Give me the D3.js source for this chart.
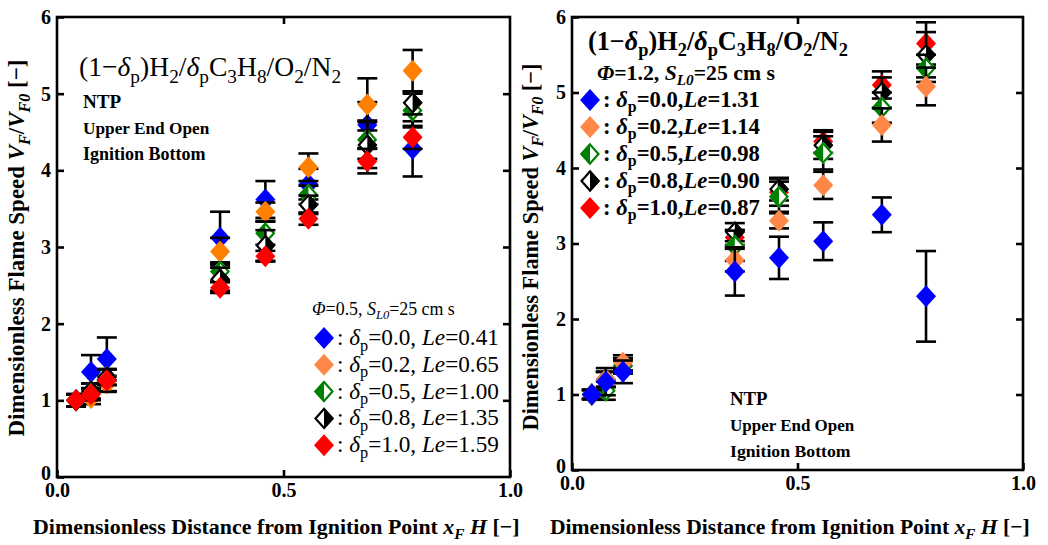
<!DOCTYPE html>
<html>
<head>
<meta charset="utf-8">
<script src="https://cdn.jsdelivr.net/npm/d3@7"></script>
<style>
  body { margin: 0; background: #fff; }
  svg text { font-family: "Liberation Serif", "Times New Roman", "DejaVu Serif", serif; }
</style>
</head>
<body>
<script>
const W = 1048, H = 545;

// left panel: phi = 0.5
const xLeft = [0.042, 0.075, 0.11, 0.36, 0.46, 0.555, 0.685, 0.785];
const leftBlue = [1.0, 1.37, 1.54, 3.12, 3.62, 3.82, 4.59, 4.28];
const leftOrange = [1.0, 1.03, 1.22, 2.94, 3.46, 4.04, 4.86, 5.3];
const leftGreen = [1.0, 1.12, 1.3, 2.68, 3.18, 3.68, 4.4, 4.78];
const leftBlack = [1.0, 1.12, 1.3, 2.58, 3.02, 3.55, 4.33, 4.88];
const leftRed = [1.0, 1.08, 1.26, 2.47, 2.88, 3.37, 4.12, 4.43];
const leftBlueErr = [0.08, 0.22, 0.28, 0.34, 0.24, 0.2, 0.3, 0.36];
const leftOrangeErr = [0.08, 0.08, 0.1, 0.18, 0.12, 0.18, 0.34, 0.27];
const leftGreenErr = [0.08, 0.1, 0.1, 0.12, 0.15, 0.12, 0.25, 0.22];
const leftBlackErr = [0.08, 0.1, 0.1, 0.15, 0.2, 0.12, 0.3, 0.15];
const leftRedErr = [0.08, 0.08, 0.15, 0.07, 0.07, 0.08, 0.16, 0.15];
const deltaLabels = ["0.0", "0.2", "0.5", "0.8", "1.0"];
const leftLe = ["0.41", "0.65", "1.00", "1.35", "1.59"];

// right panel: phi = 1.2
const xRight = [0.044, 0.075, 0.113, 0.361, 0.459, 0.557, 0.687, 0.785];
const rightBlue = [1.0, 1.17, 1.3, 2.63, 2.81, 3.03, 3.38, 2.3];
const rightOrange = [1.0, 1.2, 1.42, 2.78, 3.3, 3.77, 4.57, 5.08];
const rightGreen = [1.0, 1.05, 1.38, 2.97, 3.62, 4.2, 4.8, 5.32];
const rightBlack = [1.0, 1.2, 1.38, 3.15, 3.72, 4.3, 5.0, 5.5];
const rightRed = [1.0, 1.2, 1.38, 3.08, 3.68, 4.35, 5.1, 5.65];
const rightBlueErr = [0.06, 0.18, 0.15, 0.32, 0.28, 0.25, 0.23, 0.6];
const rightOrangeErr = [0.06, 0.1, 0.1, 0.15, 0.1, 0.18, 0.22, 0.25];
const rightGreenErr = [0.06, 0.12, 0.1, 0.2, 0.2, 0.22, 0.2, 0.18];
const rightBlackErr = [0.06, 0.1, 0.1, 0.12, 0.15, 0.18, 0.2, 0.3];
const rightRedErr = [0.06, 0.1, 0.1, 0.1, 0.18, 0.15, 0.18, 0.28];
const rightLe = ["1.31", "1.14", "0.98", "0.90", "0.87"];

const xTicks = [0, 0.5, 1];
const yTicks = [0, 1, 2, 3, 4, 5, 6];
const notes = ["NTP", "Upper End Open", "Ignition Bottom"];

const BLUE = "#0000ff", ORANGE = "#ff8000", CORAL = "#ff8848",
  GREEN = "#008000", RED = "#ff0000";

const svg = d3.select("body").append("svg").attr("width", W).attr("height", H);

// rich text from segments {t, sub, it}
const rich = (sel, segs, size) => {
  let shifted = false;
  segs.forEach((s) => {
    const ts = sel.append("tspan").text(s.t);
    if (s.it) ts.attr("font-style", "italic");
    if (s.sub) {
      ts.attr("font-size", size * 0.7);
      if (!shifted) ts.attr("dy", size * 0.24);
      shifted = true;
    } else if (shifted) {
      ts.attr("dy", -size * 0.24);
      shifted = false;
    }
  });
  return sel;
};

// draw a text, then redraw it at the size that gives the wanted width
const fitText = (parent, attrs, segs, width, base) => {
  const draw = (size) => {
    const t = parent.append("text").attr("font-size", size);
    Object.entries(attrs).forEach(([k, v]) => t.attr(k, v));
    return rich(t, segs, size);
  };
  const probe = draw(base);
  const w = probe.node().getBBox().width;
  probe.remove();
  return draw(base * width / w);
};

const formula = [
  { t: "(1−" }, { t: "δ", it: true }, { t: "p", sub: true }, { t: ")H" },
  { t: "2", sub: true }, { t: "/" }, { t: "δ", it: true }, { t: "p", sub: true },
  { t: "C" }, { t: "3", sub: true }, { t: "H" }, { t: "8", sub: true },
  { t: "/O" }, { t: "2", sub: true }, { t: "/N" }, { t: "2", sub: true },
];

const diamond = "M0,-11L10,0L0,11L-10,0Z";
const leftHalf = "M0,-11L-10,0L0,11Z";
const rightHalf = "M0,-11L10,0L0,11Z";

const drawMarker = (g, kind, color) => {
  if (kind === "full") {
    g.append("path").attr("d", diamond).attr("fill", color);
  } else {
    g.append("path").attr("d", diamond).attr("fill", "#fff");
    g.append("path").attr("d", kind === "left" ? leftHalf : rightHalf).attr("fill", color);
    g.append("path").attr("d", "M0,-9.5L8.5,0L0,9.5L-8.5,0Z")
      .attr("fill", "none").attr("stroke", color).attr("stroke-width", 2.2);
  }
};

const panel = (opt) => {
  const x = d3.scaleLinear().domain([0, 1]).range(opt.xr);
  const y = d3.scaleLinear().domain([0, 6]).range(opt.yr);
  const g = svg.append("g");

  // data: error bars and markers per series
  opt.series.forEach((s) => {
    const sg = g.append("g");
    const pts = opt.xs.map((xv, i) => ({ x: xv, y: s.vals[i], e: s.err[i] }));
    const eb = sg.append("g").attr("stroke", "#000").attr("stroke-width", 2.6);
    pts.forEach((p) => {
      const cx = x(p.x);
      eb.append("line").attr("x1", cx).attr("x2", cx)
        .attr("y1", y(p.y - p.e)).attr("y2", y(p.y + p.e));
      [p.y - p.e, p.y + p.e].forEach((v) => {
        eb.append("line").attr("x1", cx - 10).attr("x2", cx + 10)
          .attr("y1", y(v)).attr("y2", y(v));
      });
    });
    sg.selectAll(".m").data(pts).join("g")
      .attr("transform", (d) => `translate(${x(d.x)},${y(d.y)})`)
      .each(function () { drawMarker(d3.select(this), s.kind, s.color); });
  });

  // frame and ticks
  g.append("rect").attr("x", opt.xr[0]).attr("y", opt.yr[1])
    .attr("width", opt.xr[1] - opt.xr[0]).attr("height", opt.yr[0] - opt.yr[1])
    .attr("fill", "none").attr("stroke", "#000").attr("stroke-width", 2.6);

  const ax = (axis, tr) => g.append("g").attr("transform", tr).call(axis)
    .attr("font-family", null)
    .call((a) => a.select(".domain").remove())
    .call((a) => a.selectAll("line").attr("stroke-width", 2.6));
  const tickText = (a) => a.selectAll("text").attr("font-size", 20)
    .attr("font-weight", "bold").attr("fill", "#000");

  ax(d3.axisBottom(x).tickValues(xTicks).tickSize(-7).tickPadding(6).tickFormat(d3.format(".1f")),
    `translate(0,${opt.yr[0]})`).call(tickText);
  ax(d3.axisTop(x).tickValues([0.5]).tickSize(-7).tickFormat(""), `translate(0,${opt.yr[1]})`);
  ax(d3.axisLeft(y).tickValues(yTicks).tickSize(-7).tickPadding(6).tickFormat(d3.format("d")),
    `translate(${opt.xr[0]},0)`).call(tickText)
    .selectAll("text").filter((d) => d === 0).attr("dy", "0.1em");
  ax(d3.axisRight(y).tickValues(yTicks.slice(1, 6)).tickSize(-7).tickFormat(""),
    `translate(${opt.xr[1]},0)`);

  // axis titles
  fitText(g, { x: opt.xlab[0], y: opt.xlab[1], "font-weight": "bold" }, [
    { t: "Dimensionless Distance from Ignition Point    " },
    { t: "x", it: true }, { t: "F", sub: true, it: true }, { t: " H", it: true }, { t: " [−]" },
  ], opt.xlab[2], 20);
  fitText(g, {
    transform: `translate(${opt.ylab[0]},${opt.ylab[1]}) rotate(-90)`,
    "font-weight": "bold", "text-anchor": "middle",
  }, [
    { t: "Dimensionless Flame Speed   " },
    { t: "V", it: true }, { t: "F", sub: true, it: true }, { t: "/" },
    { t: "V", it: true }, { t: "F0", sub: true, it: true }, { t: "  [−]" },
  ], opt.ylab[2], 20);

  // formula
  fitText(g, { x: opt.form[0], y: opt.form[1], "font-weight": opt.bold },
    formula, opt.form[2], 24);

  // phi line
  fitText(g, { x: opt.phi[0], y: opt.phi[1], "font-weight": opt.phiBold }, [
    { t: "Φ", it: true }, { t: "=" + opt.phiVal + ", " }, { t: "S", it: true },
    { t: "L0", sub: true, it: true }, { t: "=25 cm s" },
  ], opt.phi[2], 19);

  // legend
  opt.series.slice().sort((a, b) => a.order - b.order).forEach((s, i) => {
    const ly = opt.leg[1] + i * opt.legStep;
    const mg = g.append("g").attr("transform", `translate(${opt.leg[0]},${ly})`);
    drawMarker(mg, s.kind, s.legColor);
    fitText(g, { x: opt.leg[0] + 13, y: ly + 7, "font-weight": opt.bold }, [
      { t: ": " }, { t: "δ", it: true }, { t: "p", sub: true },
      { t: "=" + deltaLabels[s.order] + "," + opt.legGap }, { t: "Le", it: true },
      { t: "=" + opt.le[s.order] },
    ], opt.leg[2], 20);
  });

  // notes
  notes.forEach((n, i) => {
    const w = opt.note[2] * [0.3, 1, 0.97][i];
    fitText(g, { x: opt.note[0], y: opt.note[1] + i * opt.noteStep, "font-weight": "bold" },
      [{ t: n }], w, 15);
  });
};

panel({
  xr: [57, 510], yr: [477, 17], xs: xLeft,
  series: [
    { vals: leftBlue, err: leftBlueErr, kind: "full", color: BLUE, legColor: BLUE, order: 0 },
    { vals: leftOrange, err: leftOrangeErr, kind: "full", color: ORANGE, legColor: CORAL, order: 1 },
    { vals: leftGreen, err: leftGreenErr, kind: "left", color: GREEN, legColor: GREEN, order: 2 },
    { vals: leftBlack, err: leftBlackErr, kind: "right", color: "#000", legColor: "#000", order: 3 },
    { vals: leftRed, err: leftRedErr, kind: "full", color: RED, legColor: RED, order: 4 },
  ],
  xlab: [33, 534, 487], ylab: [24, 248, 377],
  form: [79, 76, 262], bold: "normal",
  phi: [312, 315, 143], phiBold: "normal", phiVal: "0.5",
  leg: [324, 338, 162], legStep: 26.8, legGap: " ", le: leftLe,
  note: [83, 108, 127], noteStep: 26,
});

panel({
  xr: [572, 1023], yr: [470, 17], xs: xRight,
  series: [
    { vals: rightRed, err: rightRedErr, kind: "full", color: RED, legColor: RED, order: 4 },
    { vals: rightBlack, err: rightBlackErr, kind: "right", color: "#000", legColor: "#000", order: 3 },
    { vals: rightGreen, err: rightGreenErr, kind: "left", color: GREEN, legColor: GREEN, order: 2 },
    { vals: rightOrange, err: rightOrangeErr, kind: "full", color: CORAL, legColor: CORAL, order: 1 },
    { vals: rightBlue, err: rightBlueErr, kind: "full", color: BLUE, legColor: BLUE, order: 0 },
  ],
  xlab: [550, 534, 480], ylab: [538, 247, 367],
  form: [588, 50, 260], bold: "bold",
  phi: [597, 80, 178], phiBold: "bold", phiVal: "1.2",
  leg: [590, 100, 157], legStep: 27, legGap: "", le: rightLe,
  note: [730, 405, 125], noteStep: 26,
});
</script>
</body>
</html>
